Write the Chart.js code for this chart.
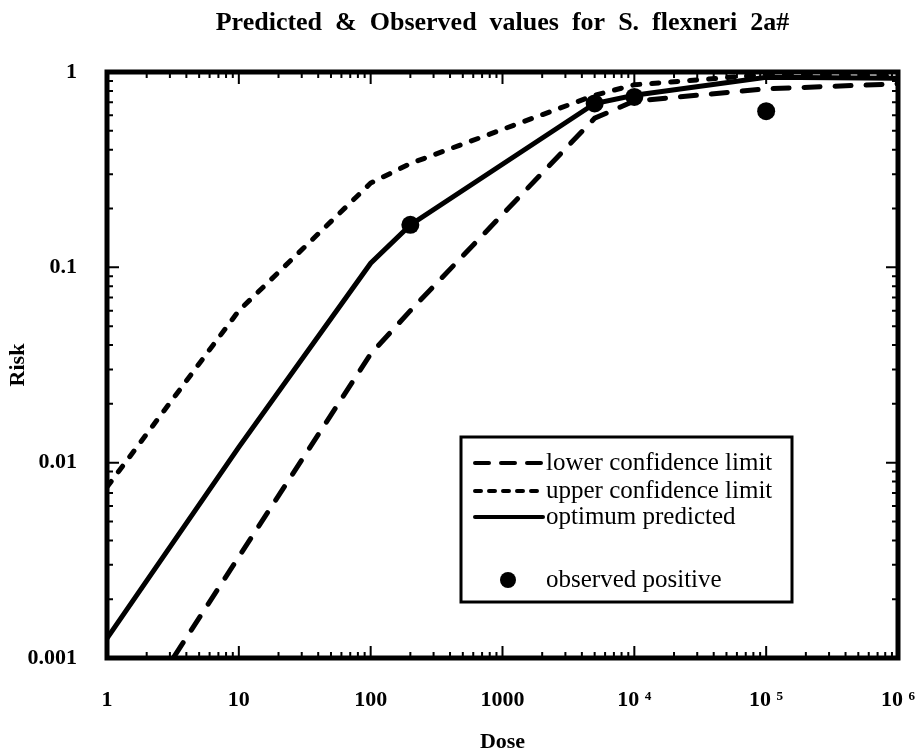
<!DOCTYPE html>
<html>
<head>
<meta charset="utf-8">
<script src="https://cdn.jsdelivr.net/npm/chart.js@4.4.1/dist/chart.umd.min.js"></script>
<style>
  html, body { margin: 0; padding: 0; background: #fff; }
</style>
</head>
<body>
<canvas id="chart" width="922" height="756"></canvas>
<script>
// dose points of the model curves
var DOSES = [1, 10, 100, 200, 5000, 1e4, 1e5, 1e6];
var LOWER = [0.0003, 0.0033, 0.036, 0.06, 0.58, 0.71, 0.82, 0.87];
var UPPER = [0.0075, 0.06, 0.27, 0.34, 0.76, 0.86, 0.97, 0.96];
var OPTIMUM = [0.00126, 0.012, 0.105, 0.165, 0.69, 0.76, 0.94, 0.93];

// observed positive
var OBS_DOSE = [200, 5000, 1e4, 1e5];
var OBS_RISK = [0.165, 0.69, 0.745, 0.63];

var X_TICKS = [1, 10, 100, 1000, 1e4, 1e5, 1e6];
var X_TICK_LABELS = ['1', '10', '100', '1000', '10 \u2074', '10 \u2075', '10 \u2076'];
var Y_TICKS = [0.001, 0.01, 0.1, 1];
var Y_TICK_LABELS = ['0.001', '0.01', '0.1', '1'];

var TITLE = 'Predicted  &  Observed  values  for  S.  flexneri  2a#';
var SERIF = '"Liberation Serif", "Times New Roman", serif';

function pairs(xs, ys) {
  return xs.map(function(x, i) { return { x: x, y: ys[i] }; });
}

// border, inward ticks, title and legend
var framePlugin = {
  id: 'frame',
  afterDatasetsDraw: function(chart) {
    var ctx = chart.ctx;
    var a = chart.chartArea;
    var xs = chart.scales.x;
    var ys = chart.scales.y;
    var d, m, p, len;

    ctx.save();
    ctx.strokeStyle = '#000';
    ctx.lineWidth = 2;
    ctx.beginPath();
    for (d = 0; d < 6; d++) {
      for (m = 1; m <= 9; m++) {
        if (d === 0 && m === 1) continue;
        p = xs.getPixelForValue(m * Math.pow(10, d));
        len = m === 1 ? 12 : 6;
        ctx.moveTo(p, a.bottom); ctx.lineTo(p, a.bottom - len);
        ctx.moveTo(p, a.top); ctx.lineTo(p, a.top + len);
      }
    }
    for (d = -3; d < 0; d++) {
      for (m = 1; m <= 9; m++) {
        if (d === -3 && m === 1) continue;
        p = ys.getPixelForValue(m * Math.pow(10, d));
        len = m === 1 ? 12 : 6;
        ctx.moveTo(a.left, p); ctx.lineTo(a.left + len, p);
        ctx.moveTo(a.right, p); ctx.lineTo(a.right - len, p);
      }
    }
    ctx.stroke();

    ctx.lineWidth = 5;
    ctx.strokeRect(a.left, a.top, a.right - a.left, a.bottom - a.top);

    // title
    ctx.fillStyle = '#000';
    ctx.font = 'bold 26px ' + SERIF;
    ctx.textAlign = 'center';
    ctx.textBaseline = 'alphabetic';
    ctx.fillText(TITLE, (a.left + a.right) / 2, 30);

    // legend
    var bx = 461, by = 437, bw = 331, bh = 165;
    ctx.fillStyle = '#fff';
    ctx.fillRect(bx, by, bw, bh);
    ctx.lineWidth = 3;
    ctx.strokeRect(bx, by, bw, bh);
    ctx.font = '25px ' + SERIF;
    ctx.textAlign = 'left';
    ctx.textBaseline = 'middle';
    var rows = [463, 491, 517];
    var dashes = [[14, 12], [6, 8], []];
    for (var i = 0; i < 3; i++) {
      var ds = chart.data.datasets[i];
      ctx.beginPath();
      ctx.lineWidth = 4;
      ctx.lineCap = 'round';
      ctx.setLineDash(dashes[i]);
      ctx.moveTo(475, rows[i]);
      ctx.lineTo(543, rows[i]);
      ctx.stroke();
      ctx.setLineDash([]);
      ctx.fillStyle = '#000';
      ctx.fillText(ds.label, 546, rows[i]);
    }
    ctx.beginPath();
    ctx.arc(508, 580, 8, 0, Math.PI * 2);
    ctx.fill();
    ctx.fillText(chart.data.datasets[3].label, 546, 580);
    ctx.restore();
  }
};

var lineStyle = {
  borderColor: '#000',
  borderWidth: 5,
  borderCapStyle: 'round',
  pointRadius: 0,
  tension: 0,
  fill: false
};

new Chart(document.getElementById('chart'), {
  type: 'line',
  data: {
    datasets: [
      Object.assign({ label: 'lower confidence limit', data: pairs(DOSES, LOWER), borderDash: [16, 15] }, lineStyle),
      Object.assign({ label: 'upper confidence limit', data: pairs(DOSES, UPPER), borderDash: [7, 12] }, lineStyle),
      Object.assign({ label: 'optimum predicted', data: pairs(DOSES, OPTIMUM) }, lineStyle),
      {
        type: 'scatter',
        label: 'observed positive',
        data: pairs(OBS_DOSE, OBS_RISK),
        showLine: false,
        pointRadius: 9,
        pointBackgroundColor: '#000',
        pointBorderWidth: 0
      }
    ]
  },
  options: {
    responsive: false,
    animation: false,
    layout: { padding: { top: 72, right: 24, left: 0, bottom: 0 } },
    plugins: {
      legend: { display: false },
      tooltip: { enabled: false },
      title: { display: false }
    },
    scales: {
      x: {
        type: 'logarithmic',
        min: 1,
        max: 1e6,
        afterBuildTicks: function(s) {
          s.ticks = X_TICKS.map(function(v) { return { value: v }; });
        },
        afterFit: function(s) {
          s.height = 98;
          s.paddingLeft = 0;
          s.paddingRight = 0;
        },
        grid: { display: false, drawTicks: false },
        border: { display: false },
        ticks: {
          autoSkip: false,
          maxRotation: 0,
          padding: 29,
          color: '#000',
          font: { family: SERIF, size: 22, weight: 'bold' },
          callback: function(v, i) { return X_TICK_LABELS[i]; }
        },
        title: {
          display: true,
          text: 'Dose',
          color: '#000',
          padding: { top: 0, bottom: 0 },
          font: { family: SERIF, size: 22, weight: 'bold' }
        }
      },
      y: {
        type: 'logarithmic',
        min: 0.001,
        max: 1,
        afterBuildTicks: function(s) {
          s.ticks = Y_TICKS.map(function(v) { return { value: v }; });
        },
        afterFit: function(s) {
          s.width = 107;
          s.paddingTop = 0;
          s.paddingBottom = 0;
        },
        grid: { display: false, drawTicks: false },
        border: { display: false },
        ticks: {
          autoSkip: false,
          padding: 30,
          color: '#000',
          font: { family: SERIF, size: 22, weight: 'bold' },
          callback: function(v, i) { return Y_TICK_LABELS[i]; }
        },
        title: {
          display: true,
          text: 'Risk',
          color: '#000',
          padding: { top: 5, bottom: 0 },
          font: { family: SERIF, size: 22, weight: 'bold' }
        }
      }
    }
  },
  plugins: [framePlugin]
});
</script>
</body>
</html>
